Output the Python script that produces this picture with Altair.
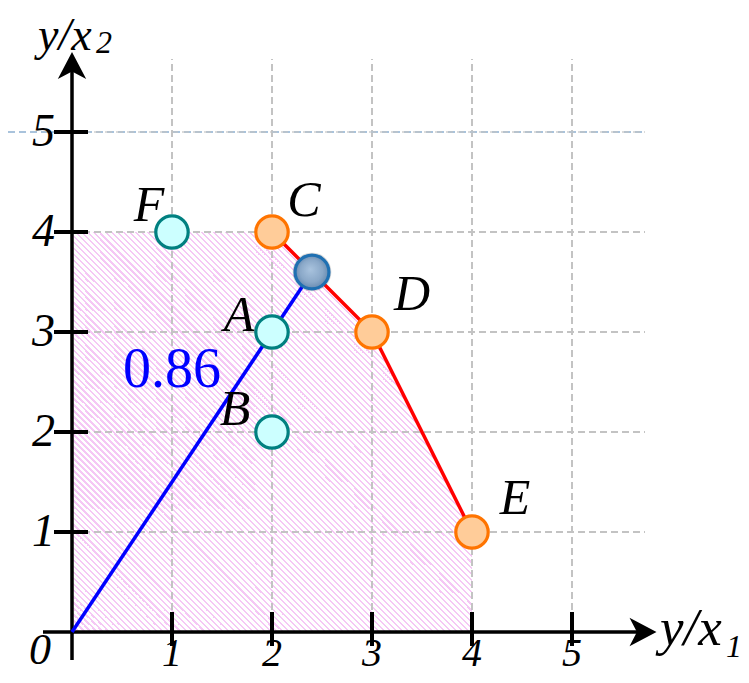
import altair as alt
import pandas as pd

# ---------------- data ----------------
point_names = ["A", "B", "C", "D", "E", "F"]
point_x = [2, 2, 2, 3, 4, 1]
point_y = [3, 2, 4, 3, 1, 4]
point_group = ["dmu", "dmu", "frontier", "frontier", "frontier", "dmu"]

frontier_x = [2, 3, 4]
frontier_y = [4, 3, 1]

region_x = [0, 2, 3, 4]
region_y = [4, 4, 3, 1]

ray_x = [0, 2.4]
ray_y = [0, 3.6]

score_text = ["0.86"]
tick_values = [1, 2, 3, 4, 5]
tick_labels = ["1", "2", "3", "4", "5"]
origin_label = ["0"]
axis_title_main = "y/x"
x_sub = "1"
y_sub = "2"

# ---------------- layout helpers ----------------
W, H = 733, 667
PX = 100.0  # px per unit, x
PY = 100.0  # px per unit, y
X_DOM = [-64 / PX, (W - 64) / PX]
Y_DOM = [(624 - H) / PY, 624 / PY]
XS = alt.Scale(domain=X_DOM, nice=False, zero=False)
YS = alt.Scale(domain=Y_DOM, nice=False, zero=False)
FONT = "Liberation Serif"


def X(f):
    return alt.X(f, type="quantitative", scale=XS, axis=None)


def Y(f):
    return alt.Y(f, type="quantitative", scale=YS, axis=None)


GRID_END = 5.73

# hatch gradient for the feasible region (period = 6 px horizontally)
pink = "#f5c8f5"
bbox_w = (max(region_x) - min(region_x)) * PX
period = 6.0 / (2 * bbox_w)
duty = 0.36
stops = []
t = 0.0
while t < 1.0 - 1e-9:
    b = min(t + period * duty, 1.0)
    c = min(t + period, 1.0)
    stops += [
        alt.GradientStop(offset=round(t, 6), color=pink),
        alt.GradientStop(offset=round(b, 6), color=pink),
        alt.GradientStop(offset=round(b, 6), color="#ffffff"),
        alt.GradientStop(offset=round(c, 6), color="#ffffff"),
    ]
    t = c
hatch = alt.LinearGradient(gradient="linear", stops=stops, x1=0, y1=1, x2=1, y2=0)

region_df = pd.DataFrame({"x": region_x, "y": region_y, "y0": [0] * len(region_x)})
area = alt.Chart(region_df).mark_area(color=hatch, interpolate="linear").encode(
    x=X("x"), y=Y("y"), y2="y0"
)

vgrid_df = pd.DataFrame({"x": tick_values, "y0": [0] * 5, "y1": [GRID_END] * 5})
vgrid = alt.Chart(vgrid_df).mark_rule(color="#c3c3c3", strokeDash=[7, 4], strokeWidth=2).encode(
    x=X("x"), y=Y("y0"), y2="y1"
)
hgrid_df = pd.DataFrame({"y": tick_values[:4], "x0": [0] * 4, "x1": [GRID_END] * 4})
hgrid = alt.Chart(hgrid_df).mark_rule(color="#c3c3c3", strokeDash=[7, 4], strokeWidth=2).encode(
    y=Y("y"), x=X("x0"), x2="x1"
)
top_df = pd.DataFrame({"y": [tick_values[4]], "x0": [X_DOM[0]], "x1": [GRID_END]})
top_line = alt.Chart(top_df).mark_rule(color="#a9c3dc", strokeDash=[7, 4], strokeWidth=2).encode(
    y=Y("y"), x=X("x0"), x2="x1"
)
top_df2 = pd.DataFrame({"y": [tick_values[4]], "x0": [0], "x1": [GRID_END]})
top_line2 = alt.Chart(top_df2).mark_rule(color="#c3c3c3", strokeDash=[7, 4], strokeWidth=2, opacity=0.6).encode(
    y=Y("y"), x=X("x0"), x2="x1"
)

# axes
xaxis_df = pd.DataFrame({"y": [0], "x0": [-0.29], "x1": [5.72]})
xaxis = alt.Chart(xaxis_df).mark_rule(color="black", strokeWidth=3.5).encode(y=Y("y"), x=X("x0"), x2="x1")
yaxis_df = pd.DataFrame({"x": [0], "y0": [-0.28], "y1": [5.70]})
yaxis = alt.Chart(yaxis_df).mark_rule(color="black", strokeWidth=3.5).encode(x=X("x"), y=Y("y0"), y2="y1")

xticks_df = pd.DataFrame({"x": tick_values, "y0": [-0.14] * 5, "y1": [0.20] * 5})
xticks = alt.Chart(xticks_df).mark_rule(color="black", strokeWidth=4).encode(x=X("x"), y=Y("y0"), y2="y1")
yticks_df = pd.DataFrame({"y": tick_values, "x0": [-0.18] * 5, "x1": [0.16] * 5})
yticks = alt.Chart(yticks_df).mark_rule(color="black", strokeWidth=4).encode(y=Y("y"), x=X("x0"), x2="x1")

ARROW = "M1,0L-1,-1.05L-0.45,0L-1,1.05Z"
xarrow = alt.Chart(pd.DataFrame({"x": [5.71], "y": [0]})).mark_point(
    shape=ARROW, filled=True, color="black", opacity=1, size=729, angle=0
).encode(x=X("x"), y=Y("y"))
yarrow = alt.Chart(pd.DataFrame({"x": [0], "y": [5.665]})).mark_point(
    shape=ARROW, filled=True, color="black", opacity=1, size=729, angle=270
).encode(x=X("x"), y=Y("y"))

# tick labels
xlab_df = pd.DataFrame({"x": tick_values, "y": [-0.215] * 5, "t": tick_labels})
xlabels = alt.Chart(xlab_df).mark_text(
    font=FONT, fontStyle="italic", fontSize=40, align="center", baseline="middle"
).encode(x=X("x"), y=Y("y"), text="t:N")
ylab_df = pd.DataFrame({"y": tick_values, "x": [-0.17] * 5, "t": tick_labels})
ylabels = alt.Chart(ylab_df).mark_text(
    font=FONT, fontStyle="italic", fontSize=46, align="right", baseline="middle"
).encode(x=X("x"), y=Y("y"), text="t:N")
olabel = alt.Chart(pd.DataFrame({"x": [-0.32], "y": [-0.19], "t": origin_label})).mark_text(
    font=FONT, fontStyle="italic", fontSize=44, align="center", baseline="middle"
).encode(x=X("x"), y=Y("y"), text="t:N")

# axis titles
ttl_top = alt.Chart(pd.DataFrame({"x": [-0.34], "y": [5.82], "t": [axis_title_main]})).mark_text(
    font=FONT, fontStyle="italic", fontSize=46, align="left", baseline="alphabetic"
).encode(x=X("x"), y=Y("y"), text="t:N")
ttl_right = alt.Chart(pd.DataFrame({"x": [5.88], "y": [-0.13], "t": [axis_title_main]})).mark_text(
    font=FONT, fontStyle="italic", fontSize=53, align="left", baseline="alphabetic"
).encode(x=X("x"), y=Y("y"), text="t:N")
ttl_sub = alt.Chart(pd.DataFrame({"x": [0.24, 6.54], "y": [5.79, -0.25], "t": [y_sub, x_sub]})).mark_text(
    font=FONT, fontStyle="italic", fontSize=32, align="left", baseline="alphabetic"
).encode(x=X("x"), y=Y("y"), text="t:N")

# lines
fr_df = pd.DataFrame({"x": frontier_x, "y": frontier_y, "o": list(range(len(frontier_x)))})
red = alt.Chart(fr_df).mark_line(color="#ff0000", strokeWidth=3.5).encode(x=X("x"), y=Y("y"), order="o:Q")
ray_df = pd.DataFrame({"x": ray_x, "y": ray_y, "o": [0, 1]})
blue = alt.Chart(ray_df).mark_line(color="#0000ff", strokeWidth=3.5).encode(x=X("x"), y=Y("y"), order="o:Q")

# points
pts_df = pd.DataFrame({"x": point_x, "y": point_y, "g": point_group, "n": point_names})
pts = alt.Chart(pts_df).mark_point(shape="circle", filled=True, size=1050, strokeWidth=3.2, opacity=1).encode(
    x=X("x"), y=Y("y"),
    fill=alt.Fill("g:N", scale=alt.Scale(domain=["dmu", "frontier"], range=["#ccffff", "#ffcc99"]), legend=None),
    stroke=alt.Stroke("g:N", scale=alt.Scale(domain=["dmu", "frontier"], range=["#008080", "#ff7400"]), legend=None),
)

proj_df = pd.DataFrame({"x": [ray_x[1]], "y": [ray_y[1]]})
shadow = alt.Chart(proj_df).mark_point(shape="circle", filled=True, size=1500, color="#555555", opacity=0.22, dx=2, dy=3).encode(
    x=X("x"), y=Y("y")
)
ball_fill = alt.RadialGradient(
    gradient="radial", x1=0.45, y1=0.42, r1=0, x2=0.5, y2=0.5, r2=0.55,
    stops=[alt.GradientStop(offset=0, color="#a9c3de"), alt.GradientStop(offset=0.6, color="#8aa8c8"),
           alt.GradientStop(offset=1, color="#5e82aa")],
)
ball = alt.Chart(proj_df).mark_point(
    shape="circle", filled=True, size=1150, fill=ball_fill, stroke="#1f70b2", strokeWidth=3.2, opacity=1
).encode(x=X("x"), y=Y("y"))

# point labels
offsets = {"A": (-33, -16), "B": (-37, -22), "C": (32, -31), "D": (40, -37), "E": (43, -33), "F": (-23, -26)}
label_layers = []
for name in point_names:
    dx, dy = offsets[name]
    label_layers.append(
        alt.Chart(pts_df[pts_df["n"] == name]).mark_text(
            font=FONT, fontStyle="italic", fontSize=50, align="center", baseline="middle", dx=dx, dy=dy
        ).encode(x=X("x"), y=Y("y"), text="n:N")
    )

score = alt.Chart(pd.DataFrame({"x": [ray_x[0]], "y": [ray_y[0]], "t": score_text})).mark_text(
    font=FONT, fontSize=56, color="#0000ff", align="center", baseline="middle", dx=100, dy=-262
).encode(x=X("x"), y=Y("y"), text="t:N")

chart = alt.layer(
    area, vgrid, hgrid, top_line, top_line2,
    xaxis, yaxis, xticks, yticks, xarrow, yarrow,
    xlabels, ylabels, olabel, ttl_top, ttl_right, ttl_sub,
    blue, red, pts, shadow, ball, score, *label_layers,
).properties(
    width=W, height=H, autosize=alt.AutoSizeParams(type="none"), padding=0, background="white"
).configure_view(stroke=None)

chart.save("out.html", embed_options={"renderer": "svg", "actions": False})
